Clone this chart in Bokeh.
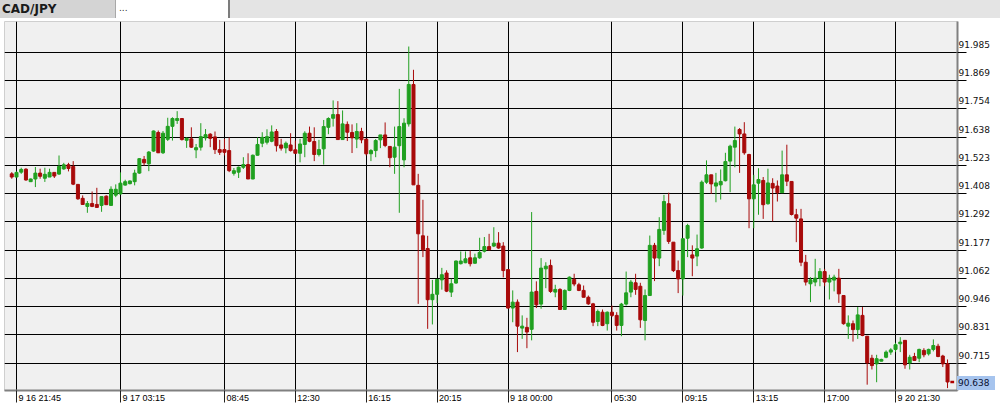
from bokeh.plotting import figure
from bokeh.models import Range1d, FixedTicker, Grid, Div
from bokeh.layouts import column
from bokeh.embed import file_html
from bokeh.resources import INLINE

# ---------------- data (CAD/JPY, 15-minute candles) ----------------
symbol = "CAD/JPY"

opens = [91.488, 91.475, 91.495, 91.507, 91.456, 91.467, 91.491, 91.470, 91.475, 91.494,
         91.487, 91.508, 91.525, 91.518, 91.445, 91.388, 91.355, 91.367, 91.363, 91.359,
         91.397, 91.359, 91.401, 91.406, 91.442, 91.448, 91.456, 91.491, 91.547, 91.529,
         91.581, 91.657, 91.574, 91.629, 91.682, 91.706, 91.714, 91.625, 91.631, 91.586,
         91.597, 91.635, 91.650, 91.639, 91.587, 91.587, 91.583, 91.490, 91.495, 91.515,
         91.526, 91.467, 91.564, 91.613, 91.617, 91.621, 91.661, 91.606, 91.594, 91.606,
         91.586, 91.572, 91.608, 91.654, 91.620, 91.567, 91.590, 91.678, 91.715, 91.730,
         91.628, 91.690, 91.657, 91.630, 91.661, 91.630, 91.570, 91.583, 91.627, 91.647,
         91.600, 91.556, 91.603, 91.545, 91.692, 91.853, 91.441, 91.235, 91.183, 90.974,
         90.996, 91.055, 91.083, 91.005, 91.042, 91.121, 91.125, 91.145, 91.123, 91.145,
         91.172, 91.191, 91.193, 91.205, 91.193, 91.097, 90.940, 90.964, 90.858, 90.861,
         90.853, 91.008, 90.956, 91.100, 91.114, 91.005, 91.016, 90.934, 91.012, 91.057,
         91.035, 91.012, 90.984, 90.957, 90.885, 90.923, 90.876, 90.923, 90.910, 90.869,
         90.956, 91.005, 91.043, 91.029, 90.889, 90.991, 91.196, 91.144, 91.257, 91.366,
         91.209, 91.093, 91.059, 91.225, 91.157, 91.152, 91.185, 91.454, 91.484, 91.438,
         91.443, 91.460, 91.540, 91.597, 91.669, 91.651, 91.567, 91.386, 91.450, 91.461,
         91.366, 91.449, 91.438, 91.411, 91.484, 91.457, 91.321, 91.304, 91.127, 91.039,
         91.046, 91.062, 91.089, 91.046, 91.054, 91.062, 90.991, 90.866, 90.876, 90.852,
         90.910, 90.825, 90.735, 90.712, 90.723, 90.739, 90.760, 90.771, 90.794, 90.808,
         90.716, 90.742, 90.735, 90.767, 90.753, 90.771, 90.784, 90.744, 90.712]

highs = [91.495, 91.498, 91.513, 91.511, 91.469, 91.516, 91.509, 91.513, 91.509, 91.494,
         91.563, 91.533, 91.533, 91.540, 91.445, 91.400, 91.377, 91.416, 91.431, 91.396,
         91.400, 91.437, 91.445, 91.494, 91.464, 91.461, 91.505, 91.552, 91.561, 91.581,
         91.665, 91.665, 91.663, 91.717, 91.719, 91.744, 91.714, 91.637, 91.678, 91.610,
         91.695, 91.671, 91.654, 91.661, 91.627, 91.631, 91.637, 91.512, 91.518, 91.556,
         91.572, 91.567, 91.637, 91.658, 91.670, 91.686, 91.671, 91.631, 91.620, 91.654,
         91.624, 91.631, 91.662, 91.681, 91.678, 91.627, 91.708, 91.719, 91.788, 91.785,
         91.747, 91.702, 91.690, 91.695, 91.676, 91.630, 91.589, 91.630, 91.647, 91.698,
         91.600, 91.681, 91.835, 91.715, 92.008, 91.913, 91.488, 91.382, 91.235, 91.055,
         91.057, 91.104, 91.094, 91.060, 91.134, 91.171, 91.171, 91.175, 91.162, 91.227,
         91.230, 91.243, 91.270, 91.250, 91.209, 91.097, 91.012, 90.975, 90.910, 90.900,
         91.332, 91.049, 91.144, 91.127, 91.138, 91.035, 91.021, 91.016, 91.069, 91.080,
         91.043, 91.032, 90.991, 90.961, 90.934, 90.934, 90.926, 90.950, 90.923, 90.961,
         91.089, 91.055, 91.080, 91.043, 91.016, 91.236, 91.206, 91.311, 91.402, 91.411,
         91.209, 91.134, 91.225, 91.284, 91.196, 91.240, 91.461, 91.543, 91.484, 91.492,
         91.506, 91.574, 91.607, 91.681, 91.675, 91.699, 91.570, 91.484, 91.511, 91.475,
         91.509, 91.470, 91.461, 91.583, 91.607, 91.457, 91.345, 91.345, 91.157, 91.066,
         91.141, 91.103, 91.100, 91.076, 91.076, 91.100, 90.991, 90.910, 90.889, 90.944,
         90.944, 90.825, 90.749, 90.749, 90.733, 90.767, 90.776, 90.798, 90.821, 90.808,
         90.749, 90.757, 90.774, 90.776, 90.774, 90.812, 90.794, 90.749, 90.730]

lows = [91.468, 91.474, 91.488, 91.460, 91.455, 91.434, 91.468, 91.455, 91.475, 91.471,
        91.484, 91.505, 91.498, 91.442, 91.382, 91.363, 91.329, 91.352, 91.350, 91.333,
        91.362, 91.359, 91.393, 91.403, 91.440, 91.445, 91.441, 91.488, 91.522, 91.499,
        91.578, 91.573, 91.569, 91.622, 91.624, 91.692, 91.624, 91.594, 91.594, 91.552,
        91.583, 91.624, 91.597, 91.569, 91.565, 91.563, 91.495, 91.481, 91.471, 91.508,
        91.467, 91.466, 91.563, 91.597, 91.608, 91.617, 91.579, 91.583, 91.572, 91.579,
        91.569, 91.535, 91.556, 91.617, 91.540, 91.559, 91.526, 91.650, 91.681, 91.628,
        91.627, 91.622, 91.573, 91.593, 91.613, 91.563, 91.540, 91.556, 91.593, 91.597,
        91.515, 91.488, 91.329, 91.515, 91.681, 91.443, 90.957, 91.148, 90.855, 90.873,
        90.960, 91.015, 91.005, 90.985, 91.039, 91.118, 91.123, 91.110, 91.121, 91.141,
        91.167, 91.175, 91.189, 91.182, 91.065, 90.937, 90.882, 90.760, 90.814, 90.776,
        90.808, 90.940, 90.937, 91.021, 91.002, 90.984, 90.934, 90.934, 91.009, 91.029,
        91.009, 90.984, 90.953, 90.866, 90.866, 90.866, 90.848, 90.903, 90.848, 90.825,
        90.950, 90.984, 90.994, 90.859, 90.808, 90.991, 91.050, 91.111, 91.239, 91.202,
        91.087, 91.001, 90.991, 91.148, 91.070, 91.111, 91.182, 91.447, 91.406, 91.372,
        91.383, 91.457, 91.413, 91.515, 91.492, 91.566, 91.266, 91.266, 91.321, 91.304,
        91.362, 91.294, 91.375, 91.411, 91.438, 91.318, 91.209, 91.111, 91.032, 90.964,
        91.029, 91.029, 91.029, 90.975, 91.008, 90.961, 90.872, 90.814, 90.803, 90.814,
        90.825, 90.627, 90.689, 90.637, 90.722, 90.735, 90.749, 90.760, 90.760, 90.692,
        90.689, 90.724, 90.719, 90.739, 90.746, 90.763, 90.739, 90.699, 90.613]

closes = [91.475, 91.494, 91.506, 91.463, 91.467, 91.491, 91.478, 91.486, 91.494, 91.479,
          91.518, 91.525, 91.510, 91.446, 91.386, 91.363, 91.367, 91.355, 91.351, 91.395,
          91.362, 91.425, 91.425, 91.450, 91.456, 91.459, 91.491, 91.550, 91.533, 91.577,
          91.663, 91.574, 91.654, 91.682, 91.714, 91.714, 91.628, 91.633, 91.597, 91.595,
          91.640, 91.648, 91.633, 91.587, 91.576, 91.576, 91.501, 91.501, 91.515, 91.526,
          91.467, 91.564, 91.608, 91.637, 91.640, 91.659, 91.603, 91.593, 91.613, 91.583,
          91.572, 91.610, 91.654, 91.621, 91.567, 91.587, 91.681, 91.714, 91.730, 91.628,
          91.692, 91.658, 91.635, 91.661, 91.627, 91.570, 91.583, 91.624, 91.647, 91.604,
          91.554, 91.597, 91.681, 91.695, 91.853, 91.443, 91.243, 91.178, 90.974, 90.996,
          91.057, 91.076, 91.009, 91.039, 91.132, 91.132, 91.141, 91.121, 91.145, 91.167,
          91.191, 91.178, 91.205, 91.185, 91.093, 90.940, 90.964, 90.866, 90.866, 90.842,
          91.005, 90.953, 91.103, 91.111, 91.008, 91.016, 90.934, 91.012, 91.066, 91.038,
          91.012, 90.984, 90.957, 90.882, 90.926, 90.869, 90.923, 90.910, 90.869, 90.956,
          91.002, 91.046, 91.016, 90.892, 90.991, 91.196, 91.144, 91.261, 91.375, 91.212,
          91.093, 91.059, 91.223, 91.277, 91.144, 91.182, 91.454, 91.484, 91.447, 91.451,
          91.457, 91.538, 91.601, 91.624, 91.651, 91.574, 91.386, 91.443, 91.465, 91.362,
          91.451, 91.430, 91.411, 91.484, 91.458, 91.322, 91.307, 91.127, 91.046, 91.055,
          91.062, 91.089, 91.046, 91.062, 91.066, 90.998, 90.876, 90.878, 90.852, 90.912,
          90.828, 90.716, 90.705, 90.733, 90.730, 90.760, 90.769, 90.790, 90.801, 90.708,
          90.739, 90.726, 90.771, 90.749, 90.771, 90.787, 90.742, 90.712, 90.638]

# time axis: bar index of each labelled tick and its text
tick_idx = [1, 23, 45, 60, 75, 90, 105, 127, 142, 157, 172, 187]
tick_labels = ["9 16 21:45", "9 17 03:15", "08:45", "12:30", "16:15", "20:15",
               "9 18 00:00", "05:30", "09:15", "13:15", "17:00", "9 20 21:30"]

# price axis grid levels and their labels
price_levels = [90.715, 90.831, 90.946, 91.062, 91.177, 91.292,
                91.408, 91.523, 91.638, 91.754, 91.869, 91.985]
price_labels = ["90.715", "90.831", "90.946", "91.062", "91.177", "91.292",
                "91.408", "91.523", "91.638", "91.754", "91.869", "91.985"]

# ---------------- style / layout ----------------
UP = "#20a020"
DOWN = "#a80a0a"
PAGE_W = 1000
TAB_H = 18
FIG_W, FIG_H = PAGE_W, 394
BORDER_L, BORDER_R, BORDER_T, BORDER_B = 4, 43, 3, 22
X_START, X_END = -1.538, 200.11
Y_START, Y_END = 90.6032, 92.1102
BOX_W, BOX_H = 38, 14

frame_w = FIG_W - BORDER_L - BORDER_R
frame_h = FIG_H - BORDER_T - BORDER_B
px_per_x = frame_w / (X_END - X_START)
px_per_y = frame_h / (Y_END - Y_START)

n = len(opens)
xs = list(range(n))
colors = [UP if c >= o else DOWN for o, c in zip(opens, closes)]
tops = [max(o, c) for o, c in zip(opens, closes)]
bottoms = [min(o, c) for o, c in zip(opens, closes)]

p = figure(width=FIG_W, height=FIG_H, output_backend="svg", toolbar_location=None,
           x_range=Range1d(X_START, X_END), y_range=Range1d(Y_START, Y_END),
           y_axis_location="right", x_axis_location="below",
           min_border_left=BORDER_L, min_border_right=BORDER_R,
           min_border_top=BORDER_T, min_border_bottom=BORDER_B,
           background_fill_color="#f0f0f0", border_fill_color="white",
           outline_line_color="#cfcfcf")

p.xgrid.visible = False
p.ygrid.visible = False
p.add_layout(Grid(dimension=0, ticker=FixedTicker(ticks=tick_idx),
                  grid_line_color="black", grid_line_width=1))
p.add_layout(Grid(dimension=1, ticker=FixedTicker(ticks=price_levels),
                  grid_line_color="black", grid_line_width=1))

# candles
p.segment(x0=xs, y0=highs, x1=xs, y1=lows, line_color=colors, line_width=1)
p.vbar(x=xs, width=0.64, top=tops, bottom=bottoms,
       fill_color=colors, line_color=colors, line_width=1)

# current price marker
last_price = closes[-1]
last_label = "%.3f" % last_price
p.rect(x=[n], y=[last_price], width=0.8, height=2.5, height_units="screen",
       fill_color="#b00000", line_color=None)

# ---- x axis: left aligned labels next to each tick
def est_width(s):
    return sum(5.0 if ch.isdigit() else 2.5 for ch in s)

x_label_pos = [round(t + (2 + est_width(s) / 2) / px_per_x, 4) for t, s in zip(tick_idx, tick_labels)]
xa = p.xaxis[0]
xa.ticker = FixedTicker(ticks=x_label_pos, minor_ticks=tick_idx)
xa.major_label_overrides = {k: v for k, v in zip(x_label_pos, tick_labels)}
xa.major_tick_out = 0
xa.major_tick_in = 0
xa.minor_tick_out = 12
xa.minor_tick_in = 0
xa.minor_tick_line_color = "#202020"
xa.axis_line_color = "#808080"
xa.axis_line_width = 2
xa.major_label_standoff = -10
xa.major_label_text_font = "Liberation Sans"
xa.major_label_text_font_size = "9px"
xa.major_label_text_color = "black"

# ---- y axis: labels sit just above their grid line
lab_off = 8 / px_per_y
y_label_pos = [round(v + lab_off, 5) for v in price_levels]
ya = p.yaxis[0]
ya.ticker = FixedTicker(ticks=y_label_pos, minor_ticks=price_levels)
ya.major_label_overrides = {k: v for k, v in zip(y_label_pos, price_labels)}
ya.major_tick_out = 0
ya.major_tick_in = 0
ya.minor_tick_out = 9
ya.minor_tick_in = 0
ya.minor_tick_line_color = "black"
ya.axis_line_color = "#808080"
ya.axis_line_width = 2
ya.major_label_standoff = -8
ya.major_label_text_font = "DejaVu Sans"
ya.major_label_text_font_size = "9px"
ya.major_label_text_color = "#101010"

tabs = Div(text=(
    '<div style="display:flex;width:%dpx;height:%dpx;background:#e4e4e4;'
    'font-family:DejaVu Sans,sans-serif;">'
    '<div style="width:116px;height:%dpx;background:#d4d4d4;font-weight:bold;font-size:12px;'
    'line-height:%dpx;padding-left:2px;color:#1a1a1a;border-right:1px solid #a8a8a8;">%s</div>'
    '<div style="width:114px;height:%dpx;background:#ffffff;font-size:9px;line-height:%dpx;'
    'padding-left:3px;color:#303030;border-right:2px solid #7c7c7c;">...</div>'
    '</div>') % (PAGE_W, TAB_H, TAB_H, TAB_H, symbol, TAB_H, TAB_H - 2),
    width=PAGE_W, height=TAB_H, margin=(0, 0, 0, 0))

# last-price tag on the price scale, at the height of the last close
frame_right = FIG_W - BORDER_R
tag_center = BORDER_T + (Y_END - last_price) * px_per_y
tag_top = int(round(tag_center - BOX_H / 2))
price_tag = Div(text=(
    '<div style="width:%dpx;height:%dpx;background:#a6c4ee;color:#0a1030;'
    'font-family:DejaVu Sans,sans-serif;font-size:9px;line-height:%dpx;'
    'padding-left:1px;box-sizing:border-box;">%s</div>') % (BOX_W, BOX_H, BOX_H, last_label),
    width=BOX_W, height=BOX_H,
    margin=(tag_top - FIG_H, 0, 0, frame_right))

layout = column(tabs, p, price_tag, spacing=0, margin=(0, 0, 0, 0))

open("out.html", "w").write(file_html(layout, INLINE))
